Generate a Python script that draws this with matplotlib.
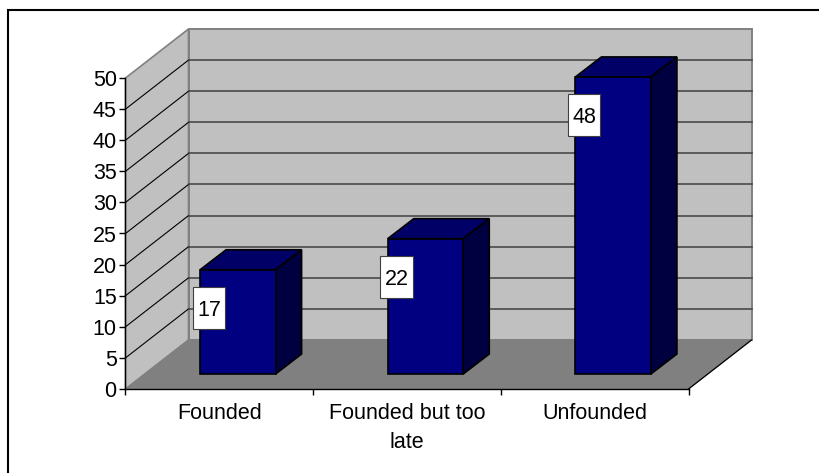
"""
3D-look bar chart of complaint outcomes, drawn on a flat axes
"""

import matplotlib
matplotlib.use('Agg')
import matplotlib.pyplot as plt
from matplotlib.patches import Polygon

categories = ['Founded', 'Founded but too\nlate', 'Unfounded']
values = [17, 22, 48]
y_ticks = [0, 5, 10, 15, 20, 25, 30, 35, 40, 45, 50]

WIDTH, HEIGHT = 820, 473
DPI = 100
# plot box in pixels, measured from the top left of the picture
LEFT, RIGHT, TOP, BOTTOM = 125.5, 688.5, 78, 389

plt.rcParams['font.family'] = ['Liberation Sans', 'DejaVu Sans']
plt.rcParams['font.size'] = 15.5

fig = plt.figure(figsize=(WIDTH / DPI, HEIGHT / DPI), dpi=DPI)
ax = fig.add_axes([LEFT / WIDTH, 1 - BOTTOM / HEIGHT, (RIGHT - LEFT) / WIDTH, (BOTTOM - TOP) / HEIGHT])
ax.set_xlim(0, len(categories))
ax.set_ylim(0, y_ticks[-1])
ax.patch.set_visible(False)

# pixel sizes of the fake depth
DEPTH_X, DEPTH_Y = 63, 49
BAR_W_PX = 75.5
BAR_SHIFT_X, BAR_BASE_Y, BAR_TOP_TRIM = 18.5, 15, 13.5
BAR_DEPTH_X, BAR_DEPTH_Y = 26, 20
BOX_W, BOX_H = 32, 42

px_x = len(categories) / (RIGHT - LEFT)
px_y = y_ticks[-1] / (BOTTOM - TOP)


def poly(points, color, edge, lw=1.0, z=1):
    # points are (data x, data y, px shift x, px shift y)
    xy = [(x + dx * px_x, y + dy * px_y) for x, y, dx, dy in points]
    ax.add_patch(Polygon(xy, closed=True, facecolor=color, edgecolor=edge, linewidth=lw, zorder=z, clip_on=False))


def deepen(p):
    return (p[0], p[1], p[2] + BAR_DEPTH_X, p[3] + BAR_DEPTH_Y)


n = len(categories)
top = y_ticks[-1]
# back wall, side wall, floor
poly([(0, 0, DEPTH_X, DEPTH_Y), (n, 0, DEPTH_X, DEPTH_Y), (n, top, DEPTH_X, DEPTH_Y), (0, top, DEPTH_X, DEPTH_Y)], '#c0c0c0', '#808080', 1.4)
poly([(0, 0, 0, 0), (0, 0, DEPTH_X, DEPTH_Y), (0, top, DEPTH_X, DEPTH_Y), (0, top, 0, 0)], '#c0c0c0', '#808080', 1.2)
poly([(0, 0, 0, 0), (n, 0, 0, 0), (n, 0, DEPTH_X, DEPTH_Y), (0, 0, DEPTH_X, DEPTH_Y)], '#808080', '#808080', 0.8)
# right edge of the floor is black
ax.plot([n, n + DEPTH_X * px_x], [0, DEPTH_Y * px_y], color='black', lw=0.9, clip_on=False, zorder=2)

# gridlines on side wall and back wall
for t in y_ticks[1:-1]:
    ax.plot([0, DEPTH_X * px_x], [t, t + DEPTH_Y * px_y], color='black', lw=0.8, clip_on=False, zorder=2)
    ax.plot([DEPTH_X * px_x, n + DEPTH_X * px_x], [t + DEPTH_Y * px_y, t + DEPTH_Y * px_y], color='#404040', lw=1.1, clip_on=False, zorder=2)

# bars
half = BAR_W_PX / 2
for i, v in enumerate(values):
    cx = i + 0.5
    left = BAR_SHIFT_X - half
    right = BAR_SHIFT_X + half
    front = [
        (cx, 0, left, BAR_BASE_Y),
        (cx, 0, right, BAR_BASE_Y),
        (cx, v, right, BAR_TOP_TRIM),
        (cx, v, left, BAR_TOP_TRIM),
    ]
    poly([front[3], front[2], deepen(front[2]), deepen(front[3])], '#000066', 'black', 1.2, 3)
    poly([front[1], deepen(front[1]), deepen(front[2]), front[2]], '#000040', 'black', 1.2, 3)
    poly(front, '#000080', 'black', 1.2, 4)
    # value label box straddling the left edge of the bar
    bx, by = -10.5, -25
    poly([(cx, v, bx - BOX_W / 2, by - BOX_H / 2), (cx, v, bx + BOX_W / 2, by - BOX_H / 2),
          (cx, v, bx + BOX_W / 2, by + BOX_H / 2), (cx, v, bx - BOX_W / 2, by + BOX_H / 2)],
         'white', '#404040', 0.8, 5)
    ax.text(cx + bx * px_x, v + by * px_y, str(v), ha='center', va='center_baseline', zorder=6)

# axes
for side in ['top', 'right']:
    ax.spines[side].set_visible(False)
for side in ['left', 'bottom']:
    ax.spines[side].set_linewidth(1.0)
    ax.spines[side].set_zorder(5)
ax.set_yticks(y_ticks)
ax.set_xticks(range(n + 1))
ax.set_xticklabels([])
ax.set_xticks([i + 0.5 for i in range(n)], categories, minor=True, linespacing=1.5)
ax.tick_params(axis='x', which='minor', length=0, pad=10)
ax.tick_params(axis='x', which='major', length=4.3, width=1.0)
ax.tick_params(axis='y', length=4.3, width=1.0, pad=2)

# chart frame, only its top and left edges fall inside the picture
fig.add_artist(plt.Line2D([8 / WIDTH, 8 / WIDTH, 1], [0, 1 - 10 / HEIGHT, 1 - 10 / HEIGHT], transform=fig.transFigure,
                          color='black', linewidth=1.5, solid_joinstyle='miter'))
fig.savefig('out.png', dpi=DPI)
